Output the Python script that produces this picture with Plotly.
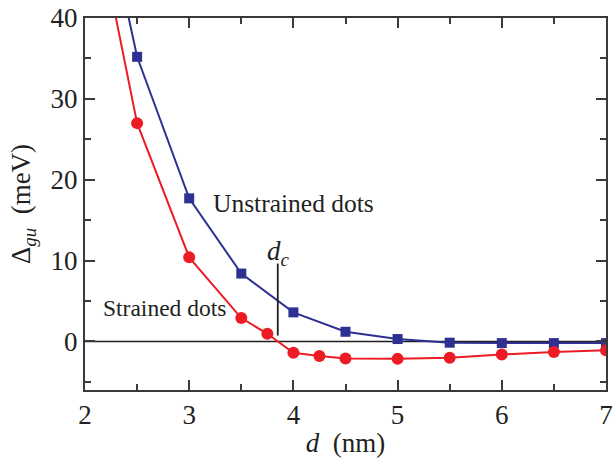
import plotly.graph_objects as go

d_unstrained = [2.0, 2.5, 3.0, 3.5, 4.0, 4.5, 5.0, 5.5, 6.0, 6.5, 7.0]
gap_unstrained = [65.0, 35.2, 17.7, 8.4, 3.6, 1.2, 0.3, -0.15, -0.2, -0.2, -0.2]

d_strained = [2.0, 2.5, 3.0, 3.5, 3.75, 4.0, 4.25, 4.5, 5.0, 5.5, 6.0, 6.5, 7.0]
gap_strained = [59.0, 27.0, 10.4, 2.9, 0.95, -1.4, -1.8, -2.1, -2.15, -2.0, -1.6, -1.3, -1.1]

x_ticks = [2, 3, 4, 5, 6, 7]
y_ticks = [0, 10, 20, 30, 40]

dc_x = 3.85
dc_span = [0.73, 9.64]

BLUE = "#2e3192"
RED = "#ed1c24"
INK = "#231f20"
AXIS = "#3a3a3a"
FONT = "Liberation Serif"

fig = go.Figure()
fig.add_hline(y=0, line=dict(color=INK, width=1.6), layer="below")
fig.add_shape(type="line", xref="x", yref="y", x0=dc_x, x1=dc_x,
              y0=dc_span[0], y1=dc_span[1], line=dict(color=INK, width=1.8), layer="above")
fig.add_trace(go.Scatter(x=d_unstrained, y=gap_unstrained, mode="lines+markers",
                         line=dict(color=BLUE, width=2),
                         marker=dict(symbol="square", size=10, color=BLUE),
                         cliponaxis=True, showlegend=False))
fig.add_trace(go.Scatter(x=d_strained, y=gap_strained, mode="lines+markers",
                         line=dict(color=RED, width=2),
                         marker=dict(symbol="circle", size=12, color=RED),
                         cliponaxis=True, showlegend=False))

fig.add_annotation(x=3.21, y=17.1, text="Unstrained dots", showarrow=False,
                   xanchor="left", yanchor="middle", font=dict(size=25.5, color=INK))
fig.add_annotation(x=2.15, y=4.1, text="Strained dots", showarrow=False,
                   xanchor="left", yanchor="middle", font=dict(size=23.5, color=INK))
fig.add_annotation(x=3.73, y=11.0, text="<i>d</i><sub><i>c</i></sub>", showarrow=False,
                   xanchor="left", yanchor="middle", font=dict(size=27, color=INK))

axis_common = dict(showline=True, linecolor=AXIS, linewidth=2, mirror="allticks",
                   ticks="inside", tickcolor=AXIS, tickwidth=2, ticklen=10,
                   showgrid=False, zeroline=False, ticklabeloverflow="allow",
                   tickfont=dict(size=27, color=INK))

fig.update_xaxes(range=[2, 7], tickvals=x_ticks,
                 minor=dict(dtick=0.5, ticks="inside", ticklen=6, tickwidth=2, tickcolor=AXIS),
                 title=dict(text="<i>d</i>  (nm)", font=dict(size=27, color=INK), standoff=4),
                 **axis_common)
fig.update_yaxes(range=[-6, 40], tickvals=y_ticks,
                 minor=dict(dtick=5, ticks="inside", ticklen=6, tickwidth=2, tickcolor=AXIS),
                 title=dict(text="Δ<sub><i>gu</i></sub>  (meV)", font=dict(size=27, color=INK), standoff=12),
                 **axis_common)

fig.update_layout(width=616, height=460, margin=dict(l=85, r=3, t=12, b=70),
                  font=dict(family=FONT, color=INK),
                  plot_bgcolor="white", paper_bgcolor="white")
fig.write_html("out.html")
